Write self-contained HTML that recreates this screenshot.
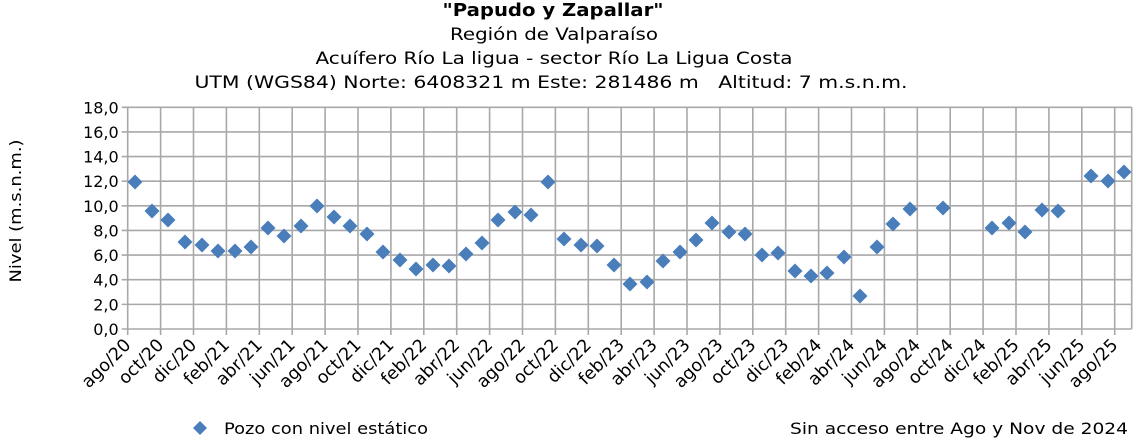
<!DOCTYPE html>
<html><head><meta charset="utf-8"><style>body{margin:0;background:#fff}svg{display:block}</style></head><body>
<svg width="1136" height="442" xmlns="http://www.w3.org/2000/svg" font-family="DejaVu Sans, Verdana, sans-serif" fill="#000">
<g text-anchor="middle" font-size="17">
<text x="553" y="16" font-weight="bold" font-size="18" textLength="221" lengthAdjust="spacingAndGlyphs">"Papudo y Zapallar"</text>
<text x="554" y="40" textLength="208" lengthAdjust="spacingAndGlyphs">Región de Valparaíso</text>
<text x="554" y="64" textLength="477" lengthAdjust="spacingAndGlyphs">Acuífero Río La ligua - sector Río La Ligua Costa</text>
<text x="551" y="88" textLength="713" lengthAdjust="spacingAndGlyphs">UTM (WGS84) Norte: 6408321 m Este: 281486 m&#160;&#160; Altitud: 7 m.s.n.m.</text>
</g>
<g id="grid" stroke="#a8a8a8" stroke-width="1.6" fill="none"></g>
<g id="lab" font-size="16"></g>
<g id="pts" fill="#4a7ebb"></g>
<text transform="translate(21,211) rotate(-90)" text-anchor="middle" font-size="16" textLength="143" lengthAdjust="spacingAndGlyphs">Nivel (m.s.n.m.)</text>
<path d="M200,421 L207,428 L200,435 L193,428Z" fill="#4a7ebb"/>
<text x="224" y="434" font-size="16" textLength="204" lengthAdjust="spacingAndGlyphs">Pozo con nivel estático</text>
<text x="790" y="434" font-size="16" textLength="338" lengthAdjust="spacingAndGlyphs">Sin acceso entre Ago y Nov de 2024</text>
<script>
var ns="http://www.w3.org/2000/svg",g=document.getElementById('grid'),l=document.getElementById('lab'),p=document.getElementById('pts');
function el(par,t,a,txt){var e=document.createElementNS(ns,t);for(var k in a)e.setAttribute(k,a[k]);if(txt)e.textContent=txt;par.appendChild(e);}
var L=127.7,R=1131.7,T=107.3,B=329;
for(var i=0;i<=9;i++){var y=T+i*(B-T)/9;el(g,'line',{x1:L-6,x2:R,y1:y,y2:y});el(l,'text',{x:L-9,y:y+6,'text-anchor':'end'},(18-2*i).toFixed(1).replace('.',','));}
var ms=['ago','oct','dic','feb','abr','jun'];
for(var i=0;i<=30;i++){var x=L+i*32.9;el(g,'line',{x1:x,x2:x,y1:T,y2:B+6});
var mo=ms[i%6];var y2=20+Math.floor((7+2*i-1)/12);var ax=x+4,ay=B+17;el(l,'text',{x:ax,y:ay,'text-anchor':'end','font-size':'17.5',transform:'rotate(-45 '+ax+' '+ay+')'},mo+'/'+y2);}
el(g,'line',{x1:R,x2:R,y1:T,y2:B});
var d=[[135,182],[152,211],[168,220],[185,242],[202,245],[218,251],[235,251],[251,247],[268,228],[284,236],[301,226],[317,206],[334,217],[350,226],[367,234],[383,252],[400,260],[416,269],[433,265],[449,266],[466,254],[482,243],[498,220],[515,212],[531,215],[548,182],[564,239],[581,245],[597,246],[614,265],[630,284],[647,282],[663,261],[680,252],[696,240],[712,223],[729,232],[745,234],[762,255],[778,253],[795,271],[811,276],[827,273],[844,257],[860,296],[877,247],[893,224],[910,209],[943,208],[992,228],[1009,223],[1025,232],[1042,210],[1058,211],[1091,176],[1108,181],[1124,172]];
d.forEach(function(q){var x=q[0],y=q[1];el(p,'path',{d:'M'+x+','+(y-7.5)+' L'+(x+7.5)+','+y+' L'+x+','+(y+7.5)+' L'+(x-7.5)+','+y+'Z'});});
</script>
</svg>
</body></html>
